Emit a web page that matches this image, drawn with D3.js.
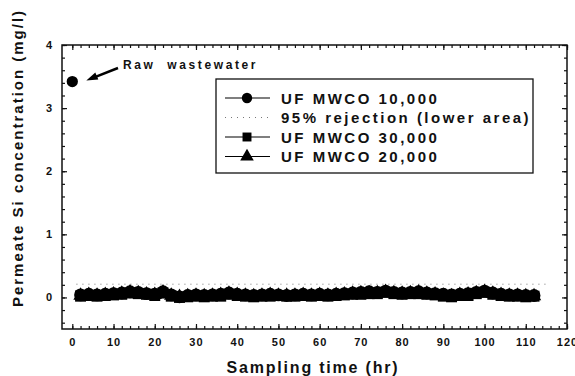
<!DOCTYPE html>
<html>
<head>
<meta charset="utf-8">
<script src="https://cdn.jsdelivr.net/npm/d3@7"></script>
<style>
  html, body { margin: 0; padding: 0; background: #fff; }
  text { font-family: 'Liberation Sans', Arial, sans-serif; font-weight: bold; fill: #111; }
</style>
</head>
<body>
<script>
// DATA
const timeHr = [2, 4, 6, 8, 10, 12, 14, 16, 18, 20, 22, 24, 26, 28, 30, 32, 34, 36, 38, 40,
  42, 44, 46, 48, 50, 52, 54, 56, 58, 60, 62, 64, 66, 68, 70, 72, 74, 76, 78, 80,
  82, 84, 86, 88, 90, 92, 94, 96, 98, 100, 102, 104, 106, 108, 110, 112];

const mwco10k = [0.04, 0.05, 0.04, 0.05, 0.06, 0.07, 0.09, 0.08, 0.06, 0.05, 0.09, 0.04, 0.01, 0.03, 0.04, 0.03, 0.04, 0.05, 0.07, 0.05,
  0.04, 0.03, 0.04, 0.05, 0.04, 0.03, 0.04, 0.05, 0.04, 0.05, 0.04, 0.05, 0.06, 0.07, 0.08, 0.09, 0.08, 0.10, 0.08, 0.07,
  0.08, 0.09, 0.07, 0.06, 0.05, 0.04, 0.05, 0.06, 0.08, 0.10, 0.07, 0.05, 0.04, 0.04, 0.03, 0.03];

const mwco30k = [0.02, 0.03, 0.02, 0.03, 0.04, 0.05, 0.07, 0.06, 0.05, 0.03, 0.07, 0.02, 0.00, 0.01, 0.02, 0.01, 0.02, 0.02, 0.05, 0.03,
  0.02, 0.01, 0.02, 0.02, 0.03, 0.02, 0.02, 0.03, 0.02, 0.03, 0.02, 0.03, 0.04, 0.05, 0.05, 0.06, 0.06, 0.08, 0.06, 0.05,
  0.06, 0.06, 0.05, 0.04, 0.02, 0.01, 0.03, 0.03, 0.06, 0.08, 0.05, 0.03, 0.02, 0.02, 0.01, 0.02];

const mwco20k = [0.03, 0.04, 0.03, 0.04, 0.05, 0.06, 0.08, 0.07, 0.05, 0.04, 0.08, 0.03, 0.01, 0.02, 0.03, 0.02, 0.03, 0.04, 0.06, 0.04,
  0.03, 0.02, 0.03, 0.04, 0.03, 0.03, 0.03, 0.04, 0.03, 0.04, 0.03, 0.04, 0.05, 0.06, 0.07, 0.07, 0.07, 0.09, 0.07, 0.06,
  0.07, 0.08, 0.06, 0.05, 0.03, 0.02, 0.04, 0.05, 0.07, 0.09, 0.06, 0.04, 0.03, 0.03, 0.02, 0.02];

const rawTime = [0];
const rawValue = [3.42];

const rejectionTime = [1, 115];
const rejectionValue = [0.21, 0.21];

const xTicks = [0, 10, 20, 30, 40, 50, 60, 70, 80, 90, 100, 110, 120];
const yTicks = [0, 1, 2, 3, 4];

const legendLabels = ['UF MWCO 10,000', '95% rejection (lower area)', 'UF MWCO 30,000', 'UF MWCO 20,000'];

// LAYOUT
const width = 575;
const height = 376;
const plotLeft = 62;
const plotRight = 567;
const plotTop = 45;
const plotBottom = 329;

const svg = d3
  .select('body')
  .append('svg')
  .attr('width', width)
  .attr('height', height);

const x = d3.scaleLinear().domain([-2.5, 120]).range([plotLeft, plotRight]);
const y = d3.scaleLinear().domain([-0.5, 4]).range([plotBottom, plotTop]);

// AXES
const styleAxis = (g) => {
  g.select('.domain').remove();
  g.selectAll('.tick line').attr('stroke', '#111').attr('stroke-width', 1.2);
  g.selectAll('.tick text')
    .style('font-size', '11px')
    .style('letter-spacing', '1px')
    .attr('fill', '#111');
};

const xMinor = d3.range(0, 121, 2);
const yMinor = d3.range(-0.4, 4.01, 0.2);

// bottom
svg.append('g')
  .attr('transform', `translate(0,${plotBottom})`)
  .call(d3.axisBottom(x).tickValues(xMinor).tickSize(-3).tickFormat(''))
  .call(styleAxis);
svg.append('g')
  .attr('transform', `translate(0,${plotBottom})`)
  .call(d3.axisBottom(x).tickValues(xTicks).tickSize(-5).tickPadding(9).tickFormat(d3.format('d')))
  .call(styleAxis);

// top
svg.append('g')
  .attr('transform', `translate(0,${plotTop})`)
  .call(d3.axisTop(x).tickValues(xMinor).tickSize(-3).tickFormat(''))
  .call(styleAxis);
svg.append('g')
  .attr('transform', `translate(0,${plotTop})`)
  .call(d3.axisTop(x).tickValues(xTicks).tickSize(-5).tickFormat(''))
  .call(styleAxis);

// left
svg.append('g')
  .attr('transform', `translate(${plotLeft},0)`)
  .call(d3.axisLeft(y).tickValues(yMinor).tickSize(-3).tickFormat(''))
  .call(styleAxis);
svg.append('g')
  .attr('transform', `translate(${plotLeft},0)`)
  .call(d3.axisLeft(y).tickValues(yTicks).tickSize(-5).tickPadding(9).tickFormat(d3.format('d')))
  .call(styleAxis);

// right
svg.append('g')
  .attr('transform', `translate(${plotRight},0)`)
  .call(d3.axisRight(y).tickValues(yMinor).tickSize(-3).tickFormat(''))
  .call(styleAxis);
svg.append('g')
  .attr('transform', `translate(${plotRight},0)`)
  .call(d3.axisRight(y).tickValues(yTicks).tickSize(-5).tickFormat(''))
  .call(styleAxis);

// frame
svg.append('rect')
  .attr('x', plotLeft)
  .attr('y', plotTop)
  .attr('width', plotRight - plotLeft)
  .attr('height', plotBottom - plotTop)
  .attr('fill', 'none')
  .attr('stroke', '#111')
  .attr('stroke-width', 1.5);

// AXIS TITLES
svg.append('text')
  .attr('transform', 'translate(23,158) rotate(-90)')
  .attr('text-anchor', 'middle')
  .style('font-size', '15px')
  .style('letter-spacing', '2px')
  .text('Permeate Si concentration (mg/l)');

svg.append('text')
  .attr('x', 313)
  .attr('y', 373)
  .attr('text-anchor', 'middle')
  .style('font-size', '16px')
  .style('letter-spacing', '1.8px')
  .text('Sampling time (hr)');

// SYMBOLS
const circleSym = d3.symbol().type(d3.symbolCircle).size(85);
const squareSym = d3.symbol().type(d3.symbolSquare).size(80);
const triangleSym = d3.symbol().type(d3.symbolTriangle).size(80);

const line = d3.line()
  .x((d) => x(d[0]))
  .y((d) => y(d[1]));

// 95% rejection dotted line
svg.append('path')
  .attr('d', line(d3.zip(rejectionTime, rejectionValue)))
  .attr('fill', 'none')
  .attr('stroke', '#777')
  .attr('stroke-width', 1)
  .attr('stroke-dasharray', '1,5');

// the data band: markers are drawn large so they merge as in the scan
const series = [
  { values: mwco30k, sym: d3.symbol().type(d3.symbolSquare).size(120) },
  { values: mwco20k, sym: d3.symbol().type(d3.symbolTriangle).size(90) },
  { values: mwco10k, sym: d3.symbol().type(d3.symbolCircle).size(130) },
];

for (const s of series) {
  const pts = d3.zip(timeHr, s.values);
  svg.append('path')
    .attr('d', line(pts))
    .attr('fill', 'none')
    .attr('stroke', '#000')
    .attr('stroke-width', 3);
  svg.append('g')
    .selectAll('path')
    .data(pts)
    .join('path')
    .attr('d', s.sym)
    .attr('transform', (d) => `translate(${x(d[0])},${y(d[1])})`)
    .attr('fill', '#000');
}

// raw wastewater point
svg.append('g')
  .selectAll('path')
  .data(d3.zip(rawTime, rawValue))
  .join('path')
  .attr('d', d3.symbol().type(d3.symbolCircle).size(100))
  .attr('transform', (d) => `translate(${x(d[0])},${y(d[1])})`)
  .attr('fill', '#000');

// ANNOTATION
const tipX = x(rawTime[0]) + 14;
const tipY = y(rawValue[0]) - 1;
svg.append('line')
  .attr('x1', 118)
  .attr('y1', 68)
  .attr('x2', tipX + 6)
  .attr('y2', tipY - 2.5)
  .attr('stroke', '#000')
  .attr('stroke-width', 2.5);
svg.append('path')
  .attr('d', `M ${tipX} ${tipY} L ${tipX + 9} ${tipY - 8} L ${tipX + 12} ${tipY - 1} Z`)
  .attr('fill', '#000');

svg.append('text')
  .attr('x', 123)
  .attr('y', 69)
  .style('font-size', '12px')
  .style('letter-spacing', '2.6px')
  .style('white-space', 'pre')
  .text('Raw  wastewater');

// LEGEND
const legend = svg.append('g');
legend.append('rect')
  .attr('x', 216)
  .attr('y', 79)
  .attr('width', 317)
  .attr('height', 94)
  .attr('fill', '#fff')
  .attr('stroke', '#111')
  .attr('stroke-width', 1.3);

const legendSyms = [circleSym, null, squareSym, triangleSym];
legendLabels.forEach((label, i) => {
  const ly = 98 + i * 19.5;
  const row = legend.append('g');
  if (legendSyms[i]) {
    row.append('line')
      .attr('x1', 225).attr('x2', 270)
      .attr('y1', ly).attr('y2', ly)
      .attr('stroke', '#000')
      .attr('stroke-width', 1.2);
    row.append('path')
      .attr('d', legendSyms[i])
      .attr('transform', `translate(247,${ly})`)
      .attr('fill', '#000');
  } else {
    row.append('line')
      .attr('x1', 225).attr('x2', 270)
      .attr('y1', ly).attr('y2', ly)
      .attr('stroke', '#777')
      .attr('stroke-width', 1)
      .attr('stroke-dasharray', '1,5');
  }
  row.append('text')
    .attr('x', 281)
    .attr('y', ly + 5.5)
    .style('font-size', '15px')
    .style('letter-spacing', '2.5px')
    .text(label);
});
</script>
</body>
</html>
